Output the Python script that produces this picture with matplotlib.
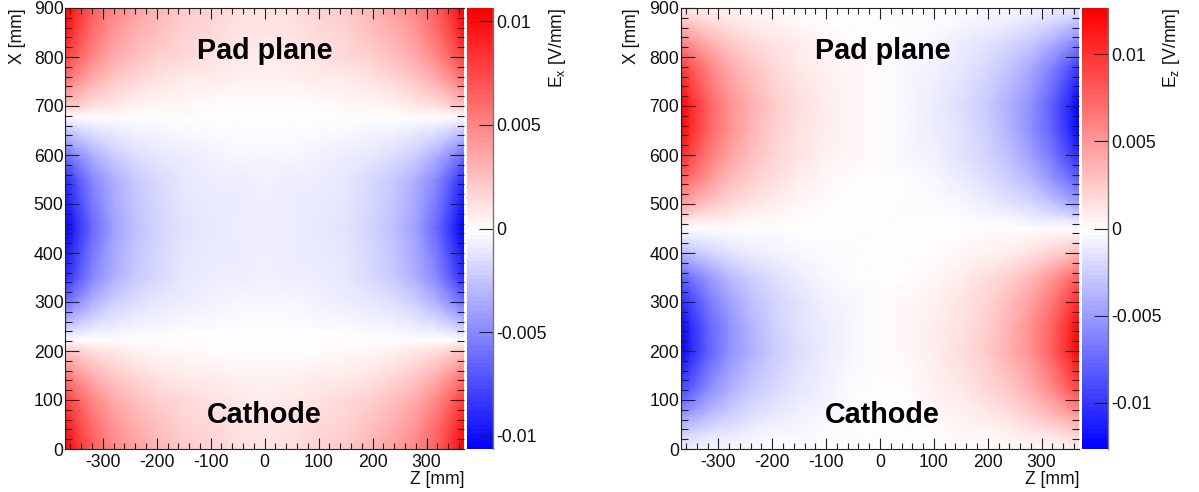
import numpy as np
import matplotlib
matplotlib.use("Agg")
import matplotlib.pyplot as plt
from matplotlib.colors import LinearSegmentedColormap, Normalize
from matplotlib.ticker import MultipleLocator, FuncFormatter

plt.rcParams['font.family'] = ['Liberation Sans', 'DejaVu Sans']
plt.rcParams['mathtext.fontset'] = 'custom'
plt.rcParams['mathtext.rm'] = 'Liberation Sans'
plt.rcParams['mathtext.default'] = 'rm'
plt.rcParams['axes.unicode_minus'] = False

# ---------- values (unit: 1e-3 V/mm) ----------
z_half = [-370, -350, -320, -280, -240, -200, -150, -100, -50]

ex_x = [900, 850, 800, 750, 700, 678, 660, 600, 550, 450,
        350, 300, 240, 222, 200, 150, 100, 50, 0]
ex_half = [  # columns: z_half, then z = 0
    [10.7,  8.8,  6.8,  5.0,  3.9,  3.0,  2.3,  1.8,  1.4,  1.2],
    [ 9.6,  8.0,  6.0,  4.3,  3.3,  2.6,  1.9,  1.5,  1.2,  1.1],
    [ 8.0,  6.6,  4.9,  3.5,  2.6,  2.0,  1.5,  1.1,  0.9,  0.8],
    [ 5.6,  4.6,  3.3,  2.3,  1.6,  1.2,  0.85, 0.65, 0.55, 0.5],
    [ 2.5,  2.0,  1.4,  0.9,  0.6,  0.4,  0.3,  0.2,  0.15, 0.12],
    [ 0.1,  0.1,  0.0,  0.0,  0.0,  0.0,  0.0,  0.0,  0.0,  0.0],
    [-1.5, -1.2, -0.8, -0.5, -0.35, -0.25, -0.15, -0.1, -0.1, -0.08],
    [-6.0, -4.8, -3.3, -2.1, -1.4, -1.0, -0.7, -0.5, -0.4, -0.4],
    [-8.8, -7.2, -5.0, -3.2, -2.2, -1.5, -1.0, -0.8, -0.65, -0.6],
    [-10.6, -8.8, -6.2, -4.0, -2.6, -1.8, -1.2, -0.9, -0.75, -0.7],
    [-8.8, -7.2, -5.0, -3.2, -2.2, -1.5, -1.0, -0.8, -0.65, -0.6],
    [-6.0, -4.8, -3.3, -2.1, -1.4, -1.0, -0.7, -0.5, -0.4, -0.4],
    [-1.5, -1.2, -0.8, -0.5, -0.35, -0.25, -0.15, -0.1, -0.1, -0.08],
    [ 0.1,  0.1,  0.0,  0.0,  0.0,  0.0,  0.0,  0.0,  0.0,  0.0],
    [ 2.5,  2.0,  1.4,  0.9,  0.6,  0.4,  0.3,  0.2,  0.15, 0.12],
    [ 5.6,  4.6,  3.3,  2.3,  1.6,  1.2,  0.85, 0.65, 0.55, 0.5],
    [ 8.0,  6.6,  4.9,  3.5,  2.6,  2.0,  1.5,  1.1,  0.9,  0.8],
    [ 9.6,  8.0,  6.0,  4.3,  3.3,  2.6,  1.9,  1.5,  1.2,  1.1],
    [10.7,  8.8,  6.8,  5.0,  3.9,  3.0,  2.3,  1.8,  1.4,  1.2],
]

ez_x = [900, 870, 830, 780, 700, 650, 600, 550, 500, 470, 450,
        430, 400, 350, 300, 250, 200, 120, 70, 30, 0]
ez_left = [  # columns: z_half
    [  1.2,  1.0,  0.8,  0.6,  0.4,  0.3,  0.2,  0.1,  0.03],
    [  3.2,  2.7,  2.0,  1.4,  1.0,  0.7,  0.45, 0.25, 0.1],
    [  6.2,  5.2,  3.9,  2.7,  1.9,  1.3,  0.8,  0.5,  0.2],
    [  9.8,  8.3,  6.2,  4.2,  2.9,  2.0,  1.25, 0.75, 0.3],
    [ 12.5, 10.5,  8.0,  5.5,  3.8,  2.6,  1.6,  0.9,  0.35],
    [ 12.2, 10.2,  7.8,  5.4,  3.7,  2.5,  1.5,  0.85, 0.35],
    [ 10.6,  9.0,  6.8,  4.7,  3.2,  2.2,  1.3,  0.7,  0.3],
    [  8.0,  6.8,  5.1,  3.5,  2.4,  1.6,  0.95, 0.5,  0.2],
    [  4.6,  3.9,  2.9,  2.0,  1.4,  0.9,  0.5,  0.25, 0.1],
    [  1.8,  1.5,  1.1,  0.8,  0.5,  0.35, 0.2,  0.1,  0.03],
    [  0.0,  0.0,  0.0,  0.0,  0.0,  0.0,  0.0,  0.0,  0.0],
    [ -1.4, -1.2, -0.9, -0.6, -0.4, -0.3, -0.2, -0.1, -0.03],
    [ -3.6, -3.0, -2.2, -1.5, -1.0, -0.7, -0.4, -0.2, -0.08],
    [ -8.0, -6.8, -5.1, -3.5, -2.4, -1.6, -0.95, -0.5, -0.2],
    [-10.6, -9.0, -6.8, -4.7, -3.2, -2.2, -1.3, -0.7, -0.3],
    [-12.2, -10.2, -7.8, -5.4, -3.7, -2.5, -1.5, -0.85, -0.35],
    [-12.5, -10.5, -8.0, -5.5, -3.8, -2.6, -1.6, -0.9, -0.35],
    [ -9.0, -7.6, -5.7, -4.0, -2.7, -1.8, -1.2, -0.65, -0.25],
    [ -5.2, -4.4, -3.3, -2.3, -1.6, -1.1, -0.7, -0.4, -0.15],
    [ -2.4, -2.0, -1.5, -1.1, -0.7, -0.5, -0.3, -0.15, -0.06],
    [ -0.8, -0.7, -0.5, -0.4, -0.3, -0.2, -0.1, -0.05, -0.02],
]

x_labels = ["Pad plane", "Cathode"]
ex_range = 10.63
ez_range = 12.66
ex_ticks = [-10, -5, 0, 5, 10]
ez_ticks = [-10, -5, 0, 5, 10]

# ---------- assemble ----------
zh = np.array(z_half, float)
z_full = np.concatenate([zh, [0.0], -zh[::-1]])
Ex = np.array(ex_half)
Ex = np.hstack([Ex, Ex[:, :-1][:, ::-1]]) * 1e-3
Ez = np.array(ez_left)
Ez = np.hstack([Ez, np.zeros((Ez.shape[0], 1)), -Ez[:, ::-1]]) * 1e-3

cmap = LinearSegmentedColormap.from_list('bwr100', ['#0000ff', '#ffffff', '#ff0000'], N=100)

W, H = 1199, 492
fig = plt.figure(figsize=(W / 100, H / 100), dpi=100)


def rect(x0, x1, y0=8, y1=449):
    return [x0 / W, 1 - y1 / H, (x1 - x0) / W, (y1 - y0) / H]


def fmt(v, _):
    if abs(v) < 1e-9:
        return '0'
    return f'{v:.3f}'.rstrip('0').rstrip('.')


def panel(x0, x1, c0, c1, xs, C, rng, ticks, elabel, lab_x, clab_x, text_z):
    ax = fig.add_axes(rect(x0, x1))
    norm = Normalize(-rng * 1e-3, rng * 1e-3)
    m = ax.pcolormesh(z_full, np.array(xs, float), C, shading='gouraud', cmap=cmap, norm=norm,
                      rasterized=True)
    ax.set_xlim(-370, 370)
    ax.set_ylim(0, 900)
    ax.xaxis.set_major_locator(MultipleLocator(100))
    ax.xaxis.set_minor_locator(MultipleLocator(20))
    ax.yaxis.set_major_locator(MultipleLocator(100))
    ax.yaxis.set_minor_locator(MultipleLocator(20))
    ax.tick_params(which='major', direction='in', top=True, right=True, width=0.8,
                   labelsize=12.7, color='#222222', labelcolor='#111111')
    ax.tick_params(which='minor', direction='in', top=True, right=True, width=0.8,
                   color='#222222')
    ax.tick_params(axis='x', which='major', length=8, pad=3.5)
    ax.tick_params(axis='x', which='minor', length=4.3)
    ax.tick_params(axis='y', which='major', length=10, pad=1)
    ax.tick_params(axis='y', which='minor', length=5)
    ax.spines['right'].set_visible(False)
    for s in ('left', 'top', 'bottom'):
        ax.spines[s].set_linewidth(0.8)
        ax.spines[s].set_color('#222222')
    ax.set_axisbelow(False)

    ax.text(text_z, 812, x_labels[0], ha='center', va='center', fontsize=20.7, fontweight='bold', color='black')
    ax.text(text_z, 69, x_labels[1], ha='center', va='center', fontsize=20.7, fontweight='bold', color='black')

    fig.text(lab_x / W, 1 - 8 / H, 'X [mm]', rotation=90, ha='center', va='top', fontsize=12.7, color='#111111')
    fig.text(x1 / W, 1 - 480 / H, 'Z [mm]', ha='right', va='center', fontsize=12.7, color='#111111')

    cax = fig.add_axes(rect(c0, c1))
    cb = fig.colorbar(m, cax=cax)
    cb.set_ticks([t * 1e-3 for t in ticks])
    cb.ax.yaxis.set_major_formatter(FuncFormatter(fmt))
    cb.ax.minorticks_off()
    cb.ax.tick_params(which='major', direction='in', length=10, width=0.8, pad=2.5, labelsize=12.7,
                      color='#222222', labelcolor='#111111')
    cb.outline.set_visible(False)
    cb.solids.set_edgecolor('face')
    cax.plot([1, 1], [0, 1], transform=cax.transAxes, color='#777777', lw=1.0, clip_on=False)
    fig.text(clab_x / W, 1 - 8 / H, elabel, rotation=90, ha='center', va='top', fontsize=12.7, color='#111111')


panel(65, 464.3, 467, 492.7, ex_x, Ex, ex_range, ex_ticks, r'E$_{\mathrm{x}}$ [V/mm]', 17, 557, 0)
panel(680.7, 1079.3, 1082, 1108, ez_x, Ez, ez_range, ez_ticks, r'E$_{\mathrm{z}}$ [V/mm]', 632, 1172, 5)

fig.savefig('out.png', dpi=100)
